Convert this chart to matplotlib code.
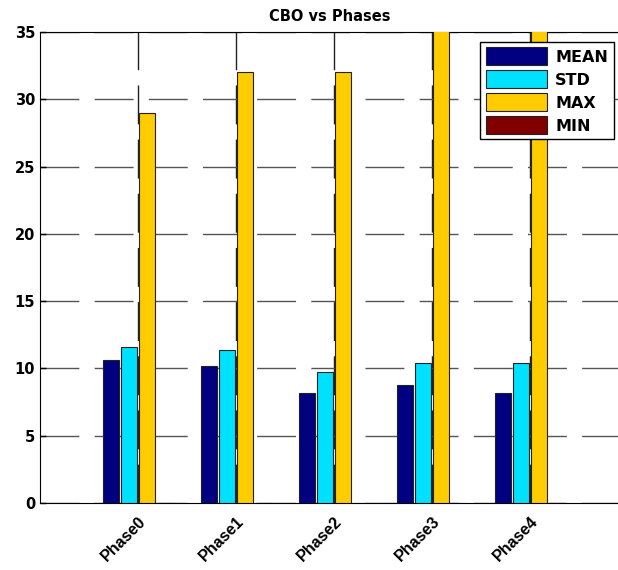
import numpy as np
import matplotlib.pyplot as plt

phases = ["Phase0", "Phase1", "Phase2", "Phase3", "Phase4"]
mean_vals = [10.6, 10.15, 8.15, 8.75, 8.15]
std_vals = [11.6, 11.4, 9.7, 10.4, 10.4]
max_vals = [29, 32, 32, 37, 37]
min_vals = [0, 0, 0, 0, 0]

series = ["MEAN", "STD", "MAX", "MIN"]
colors = ["#000080", "#00e0ff", "#ffcc00", "#800000"]

fig = plt.figure(figsize=(6.18, 5.7), dpi=100)
ax = fig.add_axes([40 / 618, 1 - 503 / 570, 579 / 618, 471 / 570])

x = np.arange(1, len(phases) + 1)
slot = 0.182
# grouped bars, matlab style
for i, (vals, name, c) in enumerate(zip([mean_vals, std_vals, max_vals, min_vals], series, colors)):
    ax.bar(x + (i - 1.5) * slot, vals, width=0.16, color=c, edgecolor="#222222",
           linewidth=0.8, label=name, zorder=3)

ax.set_xlim(0, 5.91)
ax.set_ylim(0, 35)
ax.set_yticks(range(0, 36, 5))
ax.set_xticks(x)
ax.set_xticklabels(phases, rotation=45, ha="right", rotation_mode="anchor",
                   fontsize=11.5, fontweight="bold", family="Liberation Sans")
for lab in ax.get_yticklabels():
    lab.set_fontsize(10.5)
    lab.set_fontweight("bold")
    lab.set_family("DejaVu Sans")

ax.grid(axis="y", color="#555555", linestyle=(0, (28, 11)), linewidth=1, zorder=1)
ax.grid(axis="x", color="#222222", linestyle=(0, (28, 11)), linewidth=1, zorder=4)
ax.tick_params(direction="in", length=4, width=1)
ax.tick_params(axis="x", length=0, pad=8)
ax.spines["right"].set_visible(False)

ax.set_title("CBO vs Phases", fontsize=10.5, fontweight="bold", pad=8)

leg = ax.legend(loc="upper right", bbox_to_anchor=(0.991, 0.979), borderaxespad=0,
                prop={"weight": "bold", "size": 11.5}, fancybox=False,
                edgecolor="black", framealpha=1, handlelength=3.8, handleheight=1.3,
                borderpad=0.35, labelspacing=0.35, handletextpad=0.55)
leg.get_frame().set_linewidth(1)
leg.set_zorder(5)

fig.savefig("out.png", dpi=100)
